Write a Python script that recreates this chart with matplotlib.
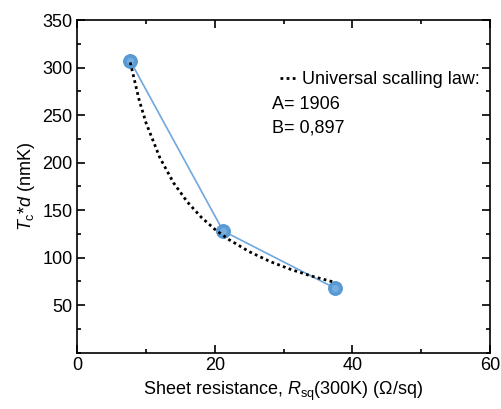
import matplotlib
matplotlib.use('Agg')
import matplotlib.pyplot as plt
from matplotlib.ticker import MultipleLocator

plt.rcParams['font.family'] = 'Liberation Sans'
plt.rcParams['mathtext.fontset'] = 'custom'
plt.rcParams['mathtext.rm'] = 'Liberation Sans'
plt.rcParams['mathtext.it'] = 'Liberation Sans:italic'
plt.rcParams['font.size'] = 13

# measured points
R_SQ = [7.7, 21.2, 37.4]
TC_D = [307, 128, 68]

# universal scaling law curve
FIT_R = [7.7, 9, 10, 12, 14, 16, 18, 20, 22, 25, 28, 31, 34, 37.5]
FIT_TC_D = [305.4, 265.6, 241.6, 205.1, 178.6, 158.5, 142.6, 129.7,
            119.1, 106.2, 95.9, 87.6, 80.6, 73.8]

FIT_A = '1906'
FIT_B = '0,897'

fig = plt.figure(figsize=(5.02, 4.09), dpi=100)
ax = fig.add_axes([0.154, 0.138, 0.822, 0.813])

ax.plot(R_SQ, TC_D, color='#6fa8dc', lw=1.2, zorder=2)
# sphere-like markers: solid blue with a soft lighter centre
ax.plot(R_SQ, TC_D, 'o', ms=10, mfc='#5b9bd5', mec='#5190cc', mew=0.6, zorder=3)
ax.plot(R_SQ, TC_D, 'o', ms=5, mfc='#7fb3e3', mec='none', alpha=0.8, zorder=4)
ax.plot(FIT_R, FIT_TC_D, color='black', lw=2, ls=(0, (1, 1.2)), zorder=5,
        label='Universal scalling law:')

ax.set_xlim(0, 60)
ax.set_ylim(0, 350)
ax.xaxis.set_major_locator(MultipleLocator(20))
ax.xaxis.set_minor_locator(MultipleLocator(10))
ax.yaxis.set_minor_locator(MultipleLocator(25))
ax.set_yticks([50, 100, 150, 200, 250, 300, 350])
ax.tick_params(which='both', direction='in', top=True, right=True, width=1.2)
ax.tick_params(which='major', length=6, labelsize=13)
ax.tick_params(which='minor', length=3)
for sp in ax.spines.values():
    sp.set_linewidth(1.2)

ax.set_xlabel(r'Sheet resistance, $R_{\rm sq}$(300K) ($\Omega$/sq)', fontsize=13)
ax.set_ylabel(r'$T_{\rm c}$*$d$ (nmK)', fontsize=13)

ax.legend(loc='center left', bbox_to_anchor=(0.47, 0.82), frameon=False,
          handlelength=1.0, handletextpad=0.2, borderpad=0, fontsize=13)
ax.text(0.472, 0.745, 'A= ' + FIT_A, transform=ax.transAxes, va='center', fontsize=13)
ax.text(0.472, 0.676, 'B= ' + FIT_B, transform=ax.transAxes, va='center', fontsize=13)

fig.savefig('out.png', dpi=100)
